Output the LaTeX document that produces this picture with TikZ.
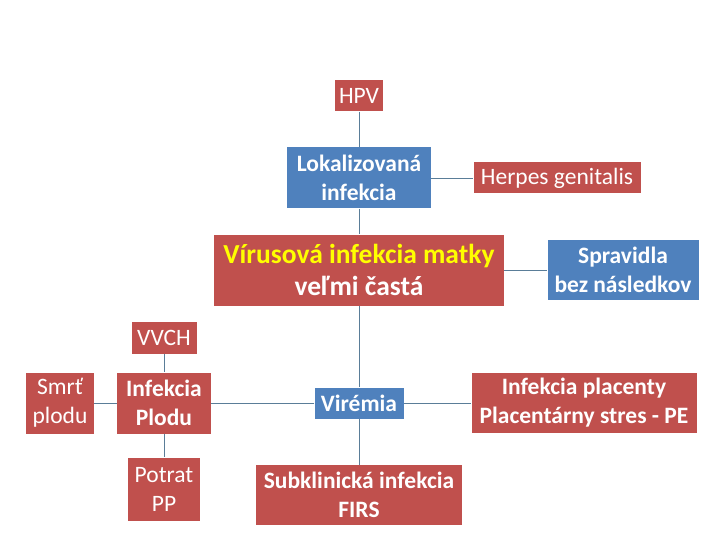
\documentclass[tikz,border=0pt]{standalone}
\usepackage{fontspec}
\setmainfont{Carlito}
\usetikzlibrary{positioning}
\definecolor{boxred}{HTML}{C0504D}
\definecolor{boxblue}{HTML}{4F81BD}
\definecolor{linkgray}{HTML}{5A7D98}
\definecolor{titleyellow}{HTML}{FFFF00}
\tikzset{
  redbox/.style={fill=boxred, text=white, align=center, inner sep=0pt, font=\fontsize{23.5}{29}\selectfont},
  bluebox/.style={fill=boxblue, text=white, align=center, inner sep=0pt, font=\fontsize{23.5}{29}\selectfont\bfseries},
  boldtext/.style={font=\fontsize{23.5}{29}\selectfont\bfseries},
  link/.style={draw=linkgray, line width=0.8pt}
}
\begin{document}
\begin{tikzpicture}[auto]
    \useasboundingbox (0,0) rectangle (720pt,-540pt);
    \node (HPV) [redbox, minimum width=48pt, minimum height=31pt] at (359pt,-96pt) {HPV};

    \node (Lokalizovana) [bluebox, node distance = 82pt, below of = HPV, minimum width=144pt, minimum height=61pt] {Lokalizovaná\\infekcia};
    \node (Herpes) [redbox, node distance = 198pt, right of = Lokalizovana, minimum width=167pt, minimum height=31pt] {Herpes genitalis};
    \node (Virusova) [redbox, node distance = 92pt, below of = Lokalizovana, minimum width=290pt, minimum height=71pt, font=\fontsize{27.5}{32}\selectfont\bfseries] {\textcolor{titleyellow}{Vírusová infekcia matky}\\veľmi častá};
    \node (Spravidla) [bluebox, node distance = 264pt, right of = Virusova, minimum width=151pt, minimum height=60pt] {Spravidla\\bez následkov};
    \node (Viremia) [bluebox, node distance = 133pt, below of = Virusova, minimum width=89pt, minimum height=31pt] {Virémia};
    \node (Placenta) [redbox, boldtext, node distance = 225pt, right of = Viremia, minimum width=225pt, minimum height=60pt] {Infekcia placenty\\Placentárny stres - PE};
    \node (Subklinicka) [redbox, boldtext, node distance = 92pt, below of = Viremia, minimum width=206pt, minimum height=60pt] {Subklinická infekcia\\FIRS};
    \node (InfekciaPlodu) [redbox, boldtext, node distance = 195pt, left of = Viremia, minimum width=94pt, minimum height=61pt] {Infekcia\\Plodu};
    \node (VVCH) [redbox, node distance = 65pt, above of = InfekciaPlodu, minimum width=65pt, minimum height=32pt] {VVCH};
    \node (Smrt) [redbox, node distance = 104pt, left of = InfekciaPlodu, minimum width=68pt, minimum height=61pt] {Smrť\\plodu};
    \node (Potrat) [redbox, node distance = 86pt, below of = InfekciaPlodu, minimum width=72pt, minimum height=63pt] {Potrat\\PP};

    \draw[link] (HPV) -- (Lokalizovana);
    \draw[link] (Lokalizovana) -- (Herpes);
    \draw[link] (Lokalizovana) -- (Virusova);
    \draw[link] (Virusova) -- (Spravidla);
    \draw[link] (Virusova) -- (Viremia);
    \draw[link] (Viremia) -- (Placenta);
    \draw[link] (Viremia) -- (Subklinicka);
    \draw[link] (Viremia) -- (InfekciaPlodu);
    \draw[link] (VVCH) -- (InfekciaPlodu);
    \draw[link] (Smrt) -- (InfekciaPlodu);
    \draw[link] (InfekciaPlodu) -- (Potrat);
\end{tikzpicture}
\end{document}
